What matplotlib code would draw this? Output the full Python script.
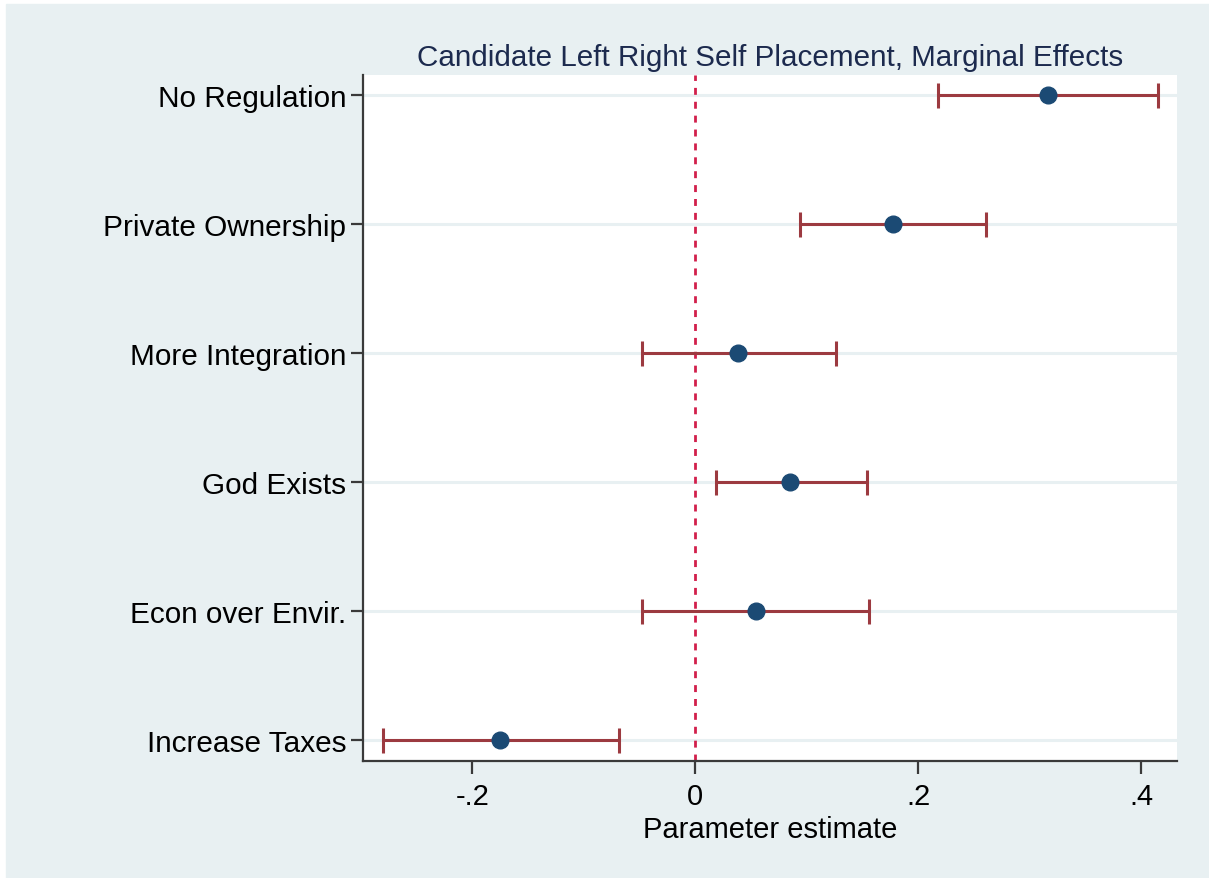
import matplotlib
matplotlib.use("Agg")
from matplotlib import pyplot as plt
from matplotlib.patches import Rectangle
import numpy as np

# coefficient estimates and 95% CIs, top to bottom
labels = ["No Regulation", "Private Ownership", "More Integration",
          "God Exists", "Econ over Envir.", "Increase Taxes"]
estimate = [0.316, 0.177, 0.038, 0.085, 0.054, -0.175]
ci_low = [0.218, 0.094, -0.048, 0.019, -0.048, -0.280]
ci_high = [0.415, 0.261, 0.126, 0.154, 0.156, -0.068]
xticks = [-0.2, 0, 0.2, 0.4]
xticklabels = ["-.2", "0", ".2", ".4"]

plt.rcParams['font.family'] = ['Liberation Sans', 'DejaVu Sans']

bg = "#e8f0f2"
fig = plt.figure(figsize=(12.09, 8.79), dpi=100)
fig.patch.set_facecolor("white")
fig.patches.append(Rectangle((6 / 1209, 0), 1, 1 - 5 / 879,
                             transform=fig.transFigure, color=bg, zorder=-10))

W, H = 1209, 879
left, right, top, bottom = 363, 1177, 76, 762
ax = fig.add_axes([left / W, 1 - bottom / H, (right - left) / W, (bottom - top) / H])
ax.set_facecolor("white")

n = len(labels)
ypos = np.arange(n, 0, -1)
est = np.array(estimate)
lo = np.array(ci_low)
hi = np.array(ci_high)

for y in ypos:
    ax.axhline(y, color="#e8f0f2", lw=2.2, zorder=0)

ax.axvline(0, color="#d21f4b", lw=2, ls=(0, (2.5, 2.5)), zorder=1)

ax.errorbar(est, ypos, xerr=[est - lo, hi - est], fmt="none",
            ecolor="#9c3a40", elinewidth=2.2, capsize=9, capthick=2.2, zorder=2)
ax.plot(est, ypos, "o", color="#1b4a74", ms=12, zorder=3)

ax.set_xlim(-0.298, 0.432)
ax.set_ylim(0.837, 6.155)
ax.set_yticks(ypos)
ax.set_yticklabels(labels, fontsize=21.4)
ax.set_xticks(xticks)
ax.set_xticklabels(xticklabels, fontsize=21)
ax.set_xlabel("Parameter estimate", fontsize=21, labelpad=4)
ax.set_title("Candidate Left Right Self Placement, Marginal Effects",
             fontsize=21.3, color="#1c2a4e", pad=7)

for s in ["top", "right"]:
    ax.spines[s].set_visible(False)
for s in ["left", "bottom"]:
    ax.spines[s].set_color("#3a3a3a")
    ax.spines[s].set_linewidth(1.6)
ax.tick_params(axis="both", length=9, width=1.6, color="#3a3a3a", pad=6)
ax.tick_params(axis="y", pad=3)

fig.savefig("out.png", dpi=100, facecolor=fig.get_facecolor())
